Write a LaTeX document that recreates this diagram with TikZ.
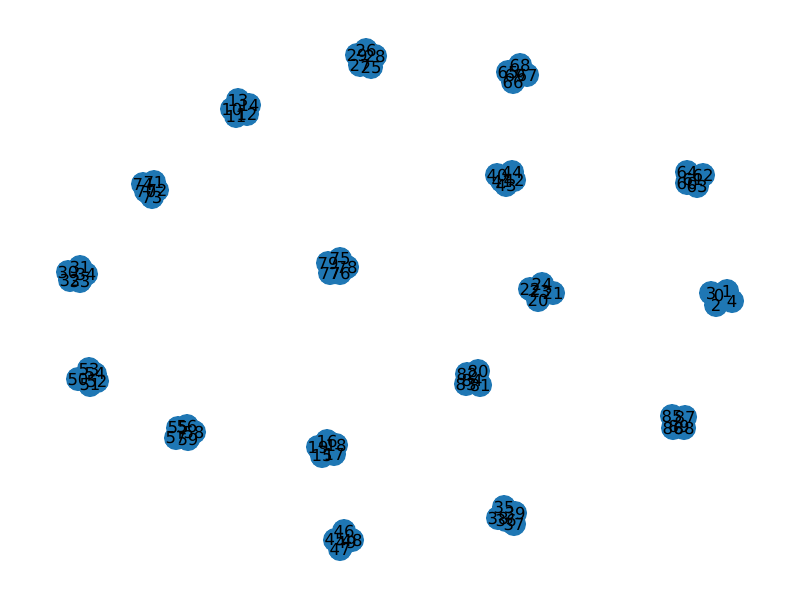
\documentclass[tikz,border=0pt]{standalone}
\usepackage{fontspec}
\setmainfont{DejaVu Sans}
\definecolor{nxblue}{HTML}{1F77B4}

\newcommand{\noduri}{%
    3/711/293, 0/719/295, 1/727/291, 2/716/305, 4/732/301,
    13/238/100, 10/232/109, 14/249/105, 11/236/116, 12/247/114,
    19/318/447, 16/327/441, 18/336/445, 15/322/456, 17/334/454,
    22/530/289, 24/542/284, 23/540/291, 21/553/293, 20/538/300,
    29/357/55, 26/366/50, 28/375/56, 27/360/65, 25/371/67,
    30/68/272, 31/80/267, 34/86/274, 32/70/280, 33/80/281,
    35/504/507, 39/515/513, 38/498/518, 36/506/520, 37/514/524,
    40/497/175, 44/512/172, 41/502/181, 42/514/180, 43/506/185,
    46/344/531, 45/335/540, 48/352/540, 49/346/542, 47/340/549,
    53/89/369, 54/95/374, 50/78/379, 52/97/381, 51/90/385,
    55/178/428, 56/187/426, 58/194/432, 57/176/438, 59/188/439,
    64/687/172, 62/703/175, 61/693/179, 60/687/183, 63/697/186,
    68/520/65, 65/508/72, 69/515/75, 67/527/75, 66/513/82,
    74/143/184, 71/154/182, 70/146/191, 72/157/190, 73/152/197,
    79/328/263, 75/340/259, 78/347/267, 77/330/273, 76/340/273,
    80/478/371, 82/467/374, 84/472/380, 83/466/384, 81/480/385,
    85/672/416, 87/685/417, 89/679/426, 86/673/428, 88/684/428}

\begin{document}
\begin{tikzpicture}[
        x=1pt, y=-1pt,
        punct/.style={circle, fill=nxblue, minimum size=24pt, inner sep=0pt},
        eticheta/.style={font=\fontsize{16.5}{17}\selectfont, inner sep=0pt},
    ]
    \useasboundingbox (0,0) rectangle (800,600);
    % noduri, grupate cate cinci
    \foreach \id/\px/\py in \noduri {
        \node[punct] (n\id) at (\px,\py) {};
    }
    % etichete peste noduri
    \foreach \id/\px/\py in \noduri {
        \node[eticheta] at (n\id) {\id};
    }
\end{tikzpicture}
\end{document}
